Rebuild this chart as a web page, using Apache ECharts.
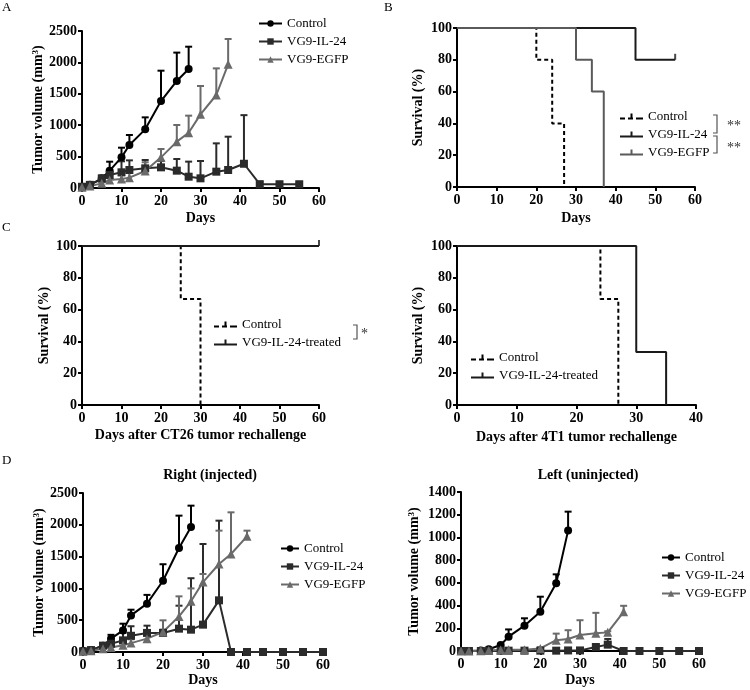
<!DOCTYPE html>
<html><head><meta charset="utf-8">
<script src="https://cdn.jsdelivr.net/npm/echarts@6/dist/echarts.min.js"></script>
<style>html,body{margin:0;padding:0;background:#fff}#c{width:750px;height:690px}</style>
</head><body><div id="c"></div>
<script>
// ---------- Panel A: tumor volume ----------
const A_ctrlDays = [0,2,5,7,10,12,16,20,24,27];
const A_ctrl     = [20,50,150,276,488,685,934,1385,1704,1895];
const A_ctrlSem  = [0,10,50,143,154,159,191,483,452,355];
const A_ilDays   = [0,2,5,7,10,12,16,20,24,27,30,34,37,41,45,50,55];
const A_il       = [20,50,150,207,250,287,313,329,276,180,154,260,287,386,60,60,60];
const A_ilSem    = [0,10,40,50,175,153,133,100,186,240,276,451,530,774,40,20,20];
const A_egDays   = [0,2,5,7,10,12,16,20,24,27,30,34,37];
const A_eg       = [10,30,74,127,143,165,270,488,738,881,1173,1481,1969];
const A_egSem    = [0,10,30,30,60,90,140,133,265,271,451,424,404];
// ---------- Panel B: survival ----------
const B_ctrlX = [0,20,24,27], B_ctrlY = [100,80,40,0];
const B_ilX   = [0,45,55],    B_ilY   = [100,80,80];
const B_egX   = [0,30,34,37], B_egY   = [100,80,60,0];
// ---------- Panel C: rechallenge survival ----------
const C1_ctrlX = [0,25,30], C1_ctrlY = [100,66.7,0];
const C1_trX   = [0,60],    C1_trY   = [100,100];
const C2_ctrlX = [0,24,27], C2_ctrlY = [100,66.7,0];
const C2_trX   = [0,30,35], C2_trY   = [100,33.3,0];
// ---------- Panel D: right (injected) ----------
const D1_ctrlDays = [0,2,5,7,10,12,16,20,24,27];
const D1_ctrl     = [20,30,100,210,340,575,760,1120,1635,1965];
const D1_ctrlSem  = [0,10,30,60,105,90,138,260,509,336];
const D1_ilDays   = [0,2,5,7,10,12,16,20,24,27,30,34,37,41,45,50,55,60];
const D1_il       = [10,30,100,130,183,255,300,300,367,351,430,812,0,0,0,0,0,0];
const D1_ilSem    = [0,10,30,50,117,150,114,50,361,809,1268,1253,0,0,0,0,0,0];
const D1_egDays   = [0,2,5,7,10,12,16,20,24,27,30,34,37,41];
const D1_eg       = [10,20,50,70,105,140,210,315,560,797,1100,1384,1541,1819];
const D1_egSem    = [0,5,20,30,40,60,80,183,315,203,126,524,655,89];
// ---------- Panel D: left (uninjected) ----------
const D2_ctrlDays = [0,2,5,7,10,12,16,20,24,27];
const D2_ctrl     = [0,0,5,15,53,126,223,346,596,1060];
const D2_ctrlSem  = [0,0,5,10,7,64,65,132,79,167];
const D2_ilDays   = [0,2,5,7,10,12,16,20,24,27,30,34,37,41,45,50,55,60];
const D2_il       = [0,0,0,2,3,3,3,3,3,5,5,35,56,0,0,0,0,0];
const D2_ilSem    = [0,0,0,2,3,3,3,3,3,5,5,20,50,0,0,0,0,0];
const D2_egDays   = [0,2,5,7,10,12,16,20,24,27,30,34,37,41];
const D2_eg       = [0,0,2,5,8,10,12,23,95,106,141,156,164,345];
const D2_egSem    = [0,0,2,3,5,5,5,10,58,77,130,180,10,53];

const FONT = 'Liberation Serif';
const C_CTRL = '#000', C_IL = '#2b2b2b', C_EG = '#6a6a6a';

const grids = [
  {left:82, top:31, width:237, height:157},
  {left:457, top:28, width:238, height:159},
  {left:82, top:246, width:237, height:159},
  {left:457, top:246, width:239, height:159},
  {left:83, top:493, width:240, height:159},
  {left:461, top:492, width:238, height:159}
];

const plain = v => String(v);

function xAx(i, max, name, gap){
  return {gridIndex:i, type:'value', min:0, max:max, interval:10,
    name:name, nameLocation:'middle', nameGap:gap,
    nameTextStyle:{fontFamily:FONT, fontWeight:'bold', fontSize:14, color:'#000'},
    axisLine:{lineStyle:{color:'#000', width:2}},
    axisTick:{length:4, lineStyle:{color:'#000', width:2}},
    axisLabel:{margin:6, formatter:plain, fontFamily:FONT, fontWeight:'bold', fontSize:14, color:'#000'},
    splitLine:{show:false}};
}
function yAx(i, max, interval, name, gap){
  return {gridIndex:i, type:'value', min:0, max:max, interval:interval,
    name:name, nameLocation:'middle', nameGap:gap,
    nameTextStyle:{fontFamily:FONT, fontWeight:'bold', fontSize:14, color:'#000',
      rich:{sup:{fontFamily:FONT, fontWeight:'bold', fontSize:9, color:'#000', verticalAlign:'top', padding:[0,0,5,0]}}},
    axisLine:{lineStyle:{color:'#000', width:2}},
    axisTick:{length:4, lineStyle:{color:'#000', width:2}},
    axisLabel:{margin:5, formatter:plain, fontFamily:FONT, fontWeight:'bold', fontSize:14, color:'#000'},
    splitLine:{show:false}};
}

const series = [];
function volSeries(idx, name, days, vals, sem, color, symbol){
  series.push({type:'custom', xAxisIndex:idx, yAxisIndex:idx, silent:true, z:2,
    data: days.map((d,i)=>[d, vals[i], vals[i]+sem[i]]),
    encode:{x:0, y:[1,2]},
    renderItem:function(params, api){
      const p0 = api.coord([api.value(0), api.value(1)]);
      const p1 = api.coord([api.value(0), api.value(2)]);
      if (Math.abs(p1[1]-p0[1]) < 1) return null;
      return {type:'group', children:[
        {type:'line', shape:{x1:p0[0], y1:p0[1], x2:p1[0], y2:p1[1]}, style:{stroke:color, lineWidth:2}},
        {type:'line', shape:{x1:p1[0]-3.5, y1:p1[1], x2:p1[0]+3.5, y2:p1[1]}, style:{stroke:color, lineWidth:2}}
      ]};
    }});
  series.push({type:'line', name:name, xAxisIndex:idx, yAxisIndex:idx, z:3,
    data: days.map((d,i)=>[d, vals[i]]),
    symbol:symbol, symbolSize: symbol==='triangle' ? 9 : 8, showAllSymbol:true,
    color:color, lineStyle:{color:color, width:2}, itemStyle:{color:color},
    clip:false, animation:false});
}
function survSeries(idx, name, xs, ys, color, dashed, censor){
  series.push({type:'line', name:name, xAxisIndex:idx, yAxisIndex:idx, step:'end',
    data: xs.map((x,i)=>[x, ys[i]]), symbol:'none', color:color,
    lineStyle:{color:color, width:2, type: dashed ? [4,3] : 'solid'},
    clip:false, animation:false});
  if (censor){
    series.push({type:'scatter', xAxisIndex:idx, yAxisIndex:idx, silent:true,
      data:[[xs[xs.length-1], ys[ys.length-1]]], symbol:'rect', symbolSize:[2,6],
      symbolOffset:[0,-3], itemStyle:{color:color}, clip:false});
  }
}

volSeries(0, 'A|Control', A_ctrlDays, A_ctrl, A_ctrlSem, C_CTRL, 'circle');
volSeries(0, 'A|VG9-IL-24', A_ilDays, A_il, A_ilSem, C_IL, 'rect');
volSeries(0, 'A|VG9-EGFP', A_egDays, A_eg, A_egSem, C_EG, 'triangle');

survSeries(1, 'B|Control', B_ctrlX, B_ctrlY, '#000', true, false);
survSeries(1, 'B|VG9-IL-24', B_ilX, B_ilY, '#1a1a1a', false, true);
survSeries(1, 'B|VG9-EGFP', B_egX, B_egY, '#5a5a5a', false, false);

survSeries(2, 'C1|Control', C1_ctrlX, C1_ctrlY, '#000', true, false);
survSeries(2, 'C1|VG9-IL-24-treated', C1_trX, C1_trY, '#1a1a1a', false, true);

survSeries(3, 'C2|Control', C2_ctrlX, C2_ctrlY, '#000', true, false);
survSeries(3, 'C2|VG9-IL-24-treated', C2_trX, C2_trY, '#1a1a1a', false, false);

volSeries(4, 'D1|Control', D1_ctrlDays, D1_ctrl, D1_ctrlSem, C_CTRL, 'circle');
volSeries(4, 'D1|VG9-IL-24', D1_ilDays, D1_il, D1_ilSem, C_IL, 'rect');
volSeries(4, 'D1|VG9-EGFP', D1_egDays, D1_eg, D1_egSem, C_EG, 'triangle');

volSeries(5, 'D2|Control', D2_ctrlDays, D2_ctrl, D2_ctrlSem, C_CTRL, 'circle');
volSeries(5, 'D2|VG9-IL-24', D2_ilDays, D2_il, D2_ilSem, C_IL, 'rect');
volSeries(5, 'D2|VG9-EGFP', D2_egDays, D2_eg, D2_egSem, C_EG, 'triangle');

const ICON_SOLID = 'path://M0,4h23v2h-23z M10.5,0h2v4h-2z';
const ICON_DASH  = 'path://M0,4h5v2h-5z M8,4h5v2h-5z M16,4h7v2h-7z M10.5,0h2v4h-2z';

function legend(left, top, names, w, h, survival){
  return {orient:'vertical', left:left, top:top, padding:0, itemGap:5,
    itemWidth:w, itemHeight:h, selectedMode:false,
    formatter:function(n){return n.split('|')[1];},
    textStyle:{fontFamily:FONT, fontSize:13, color:'#000'},
    data: names.map((n,i)=> survival ? {name:n, icon: i===0 ? ICON_DASH : ICON_SOLID} : {name:n})};
}

const subTitleStyle = {fontFamily:FONT, fontWeight:'bold', fontSize:14, fill:'#000'};
const letterStyle = {fontFamily:FONT, fontSize:13, fill:'#000'};

const option = {
  animation:false,
  backgroundColor:'#fff',
  grid: grids,
  xAxis: [
    xAx(0, 60, 'Days', 23),
    xAx(1, 60, 'Days', 24),
    xAx(2, 60, 'Days after CT26 tumor rechallenge', 23),
    xAx(3, 40, 'Days after 4T1 tumor rechallenge', 25),
    xAx(4, 60, 'Days', 15),
    xAx(5, 60, 'Days', 22)
  ],
  yAxis: [
    yAx(0, 2500, 500, 'Tumor volume (mm{sup|3})', 37),
    yAx(1, 100, 20, 'Survival (%)', 32),
    yAx(2, 100, 20, 'Survival (%)', 31),
    yAx(3, 100, 20, 'Survival (%)', 32),
    yAx(4, 2500, 500, 'Tumor volume (mm{sup|3})', 37),
    yAx(5, 1400, 200, 'Tumor volume (mm{sup|3})', 40)
  ],
  legend: [
    legend(258, 17, ['A|Control','A|VG9-IL-24','A|VG9-EGFP'], 23, 8, false),
    legend(620, 110, ['B|Control','B|VG9-IL-24','B|VG9-EGFP'], 23, 6, true),
    legend(214, 318, ['C1|Control','C1|VG9-IL-24-treated'], 23, 6, true),
    legend(471, 351, ['C2|Control','C2|VG9-IL-24-treated'], 23, 6, true),
    legend(280, 542, ['D1|Control','D1|VG9-IL-24','D1|VG9-EGFP'], 18, 8, false),
    legend(661, 551, ['D2|Control','D2|VG9-IL-24','D2|VG9-EGFP'], 18, 8, false)
  ],
  graphic: [
    {type:'text', left:2, top:1, style:Object.assign({text:'A'}, letterStyle)},
    {type:'text', left:384, top:1, style:Object.assign({text:'B'}, letterStyle)},
    {type:'text', left:2, top:221, style:Object.assign({text:'C'}, letterStyle)},
    {type:'text', left:2, top:454, style:Object.assign({text:'D'}, letterStyle)},
    {type:'text', x:210, y:475, style:Object.assign({text:'Right (injected)', textAlign:'center', textVerticalAlign:'middle'}, subTitleStyle)},
    {type:'text', x:588, y:475, style:Object.assign({text:'Left (uninjected)', textAlign:'center', textVerticalAlign:'middle'}, subTitleStyle)},
    {type:'polyline', shape:{points:[[713,115],[717,115],[717,133],[713,133]]}, style:{stroke:'#555', lineWidth:1.2, fill:null}},
    {type:'polyline', shape:{points:[[713,136],[717,136],[717,153],[713,153]]}, style:{stroke:'#555', lineWidth:1.2, fill:null}},
    {type:'text', x:727, y:126, style:{text:'**', fontFamily:FONT, fontSize:14, fill:'#333', textVerticalAlign:'middle'}},
    {type:'text', x:727, y:148, style:{text:'**', fontFamily:FONT, fontSize:14, fill:'#333', textVerticalAlign:'middle'}},
    {type:'polyline', shape:{points:[[353,325],[357,325],[357,339],[353,339]]}, style:{stroke:'#555', lineWidth:1.2, fill:null}},
    {type:'text', x:361, y:334, style:{text:'*', fontFamily:FONT, fontSize:14, fill:'#333', textVerticalAlign:'middle'}}
  ],
  series: series
};

const chart = echarts.init(document.getElementById('c'), null, {renderer:'canvas'});
chart.setOption(option);
</script>
</body></html>
